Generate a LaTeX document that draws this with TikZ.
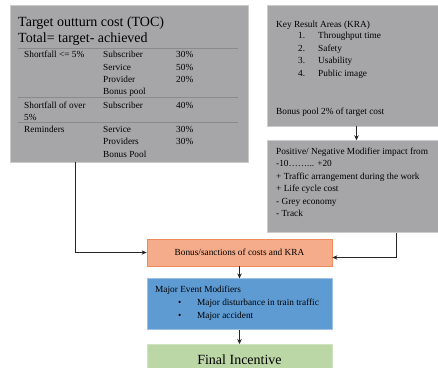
\documentclass[tikz,border=0pt]{standalone}
\usepackage{fontspec}
\setmainfont{Liberation Serif}
\usetikzlibrary{positioning,arrows.meta}

\definecolor{boxgray}{HTML}{A6A6A8}
\definecolor{rulegray}{HTML}{8A8A8C}
\definecolor{bonusfill}{HTML}{F5AC8B}
\definecolor{bonusline}{HTML}{EE8A5C}
\definecolor{majorfill}{HTML}{5E9BD3}
\definecolor{majorline}{HTML}{9CC2E5}
\definecolor{finalfill}{HTML}{BCD7A6}
\definecolor{finalline}{HTML}{CFE3C0}

\begin{document}
\begin{tikzpicture}[%
    >={Stealth[length=5pt,width=4.5pt]},
    x=1pt, y=-1pt,
    node distance=12pt,
    graybox/.style={draw=gray!40, fill=boxgray, line width=0.6pt, inner sep=0pt},
    txt/.style={anchor=base west, inner sep=0pt, font=\fontsize{9.3}{11}\selectfont},
    bigtxt/.style={anchor=base west, inner sep=0pt, font=\fontsize{14}{16}\selectfont},
    conn/.style={->, draw=black!85, line width=0.8pt}
    ]

    \useasboundingbox (0,0) rectangle (438,367);

    \node[graybox, minimum width=238pt, minimum height=157pt] (toc) at (129,83.5) {};
    \node[graybox, minimum width=179pt, minimum height=121pt] (kra) at (356.5,65.5) {};
    \node[graybox, minimum width=179pt, minimum height=92pt] (mod) [below=14pt of kra] {};
    \node[draw=bonusline, fill=bonusfill, line width=0.8pt, minimum width=185pt, minimum height=27pt,
          font=\fontsize{9.3}{11}\selectfont] (bonus) at (239.5,252.5) {Bonus/sanctions of costs and KRA};
    \node[draw=majorline, fill=majorfill, line width=0.6pt, minimum width=185pt, minimum height=51pt] (major) [below=12pt of bonus] {};
    \node[draw=finalline, fill=finalfill, line width=0.6pt, minimum width=185pt, minimum height=30pt,
          font=\fontsize{14}{16}\selectfont] (final) [below=14pt of major] {Final Incentive};

    \node[bigtxt] (tocA) at (18,26) {Target outturn cost (TOC)};
    \node[bigtxt] (tocB) at (18,42) {Total= target- achieved};
    \draw[rulegray, line width=0.6pt] (18,48) -- (238,48);
    \node[txt] (s1) at (24,57) {Shortfall <= 5\%};
    \node[txt] (s1a) at (103,57) {Subscriber};
    \node[txt] (s1b) at (176,57) {30\%};
    \node[txt] (s2a) at (103,70) {Service};
    \node[txt] (s2b) at (176,70) {50\%};
    \node[txt] (s3a) at (103,82) {Provider};
    \node[txt] (s3b) at (176,82) {20\%};
    \node[txt] (s4a) at (103,94) {Bonus pool};
    \draw[rulegray, line width=0.6pt] (18,97.5) -- (238,97.5);
    \node[txt] (o1) at (24,108) {Shortfall of over};
    \node[txt] (o1a) at (103,108) {Subscriber};
    \node[txt] (o1b) at (176,108) {40\%};
    \node[txt] (o2) at (24,120) {5\%};
    \draw[rulegray, line width=0.6pt] (18,122.5) -- (238,122.5);
    \node[txt] (r1) at (24,132) {Reminders};
    \node[txt] (r1a) at (103,132) {Service};
    \node[txt] (r1b) at (176,132) {30\%};
    \node[txt] (r2a) at (103,144) {Providers};
    \node[txt] (r2b) at (176,144) {30\%};
    \node[txt] (r3a) at (103,157) {Bonus Pool};

    \node[txt] (kraT) at (276,27.5) {Key Result Areas (KRA)};
    \node[txt] (k1) at (298,38.5) {1.};
    \node[txt] (k1t) at (318,38.5) {Throughput time};
    \node[txt] (k2) at (298,51) {2.};
    \node[txt] (k2t) at (318,51) {Safety};
    \node[txt] (k3) at (298,63.5) {3.};
    \node[txt] (k3t) at (318,63.5) {Usability};
    \node[txt] (k4) at (298,76) {4.};
    \node[txt] (k4t) at (318,76) {Public image};
    \node[txt] (kraP) at (276,114) {Bonus pool 2\% of target cost};

    \node[txt] (m1) at (276,154) {Positive/ Negative Modifier impact from};
    \node[txt] (m2) at (276,166.5) {-10……... +20};
    \node[txt] (m3) at (276,179) {+ Traffic arrangement during the work};
    \node[txt] (m4) at (276,191.5) {+ Life cycle cost};
    \node[txt] (m5) at (276,204) {- Grey economy};
    \node[txt] (m6) at (276,216.5) {- Track};

    \node[txt] (e0) at (155,292) {Major Event Modifiers};
    \node[txt] (e1) at (178,305) {\textbullet};
    \node[txt] (e1t) at (197,305) {Major disturbance in train traffic};
    \node[txt] (e2) at (178,318) {\textbullet};
    \node[txt] (e2t) at (197,318) {Major accident};

    \draw[conn] ([xshift=66pt]toc.south west) |- (bonus.west);
    \draw[conn] (kra) -- (mod);
    \draw[conn] ([xshift=40pt]mod.south) |- ([yshift=-5pt]bonus.east);
    \draw[conn] (bonus) -- (major);
    \draw[conn] (major) -- (final);

\end{tikzpicture}
\end{document}
